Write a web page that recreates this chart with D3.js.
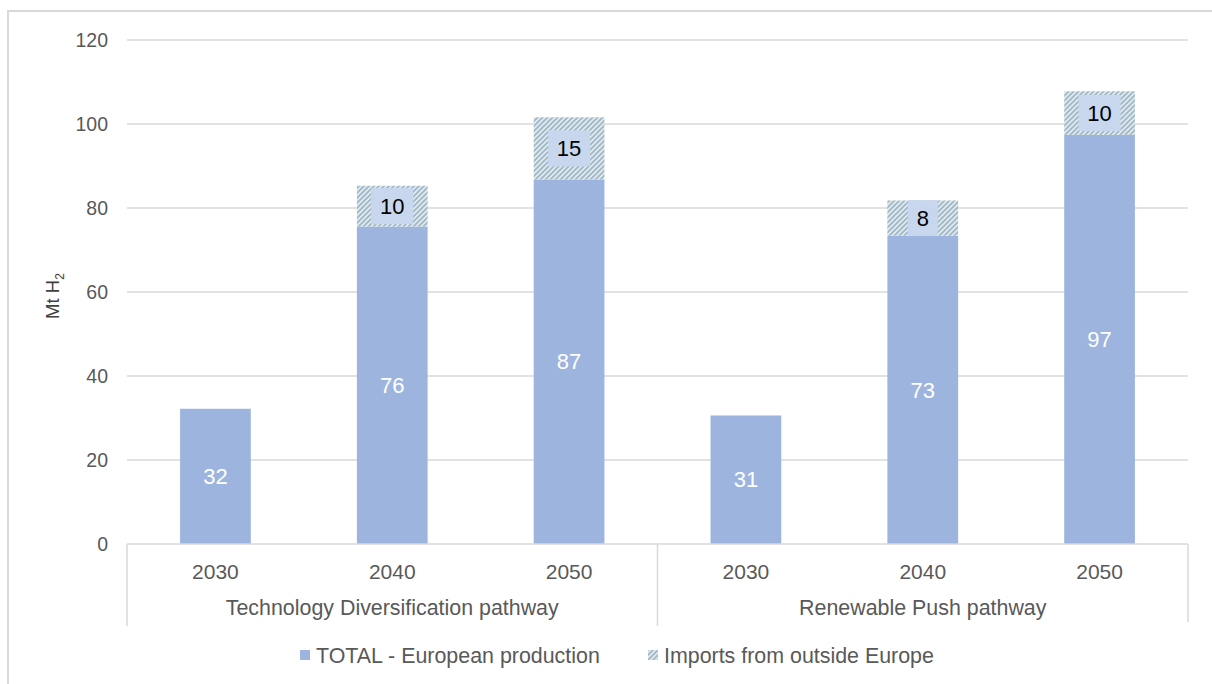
<!DOCTYPE html>
<html><head><meta charset="utf-8">
<script src="https://cdn.jsdelivr.net/npm/d3@7"></script>
<style>body{margin:0;background:#fff;}svg{display:block;font-family:Arial,"Liberation Sans",sans-serif;}</style>
</head><body><svg id="c" width="1212" height="684"></svg>
<script>
const groups = ["Technology Diversification pathway", "Renewable Push pathway"];
const years = ["2030", "2040", "2050"];
const european = [32.2, 75.6, 86.8, 30.6, 73.4, 97.4];
const imports = [0, 9.7, 14.8, 0, 8.4, 10.4];
const yTicks = [0, 20, 40, 60, 80, 100, 120];
const seriesNames = ["TOTAL - European production", "Imports from outside Europe"];

(function(){
const svg = d3.select("#c");
const W = 1212, H = 684;
const mLeft = 127, mRight = 1188, mTop = 40, mBottom = 544;
const FF = "Arial,'Liberation Sans',sans-serif";

// frame
svg.append("path").attr("d", `M8,${H} V11 H${W}`).attr("fill","none").attr("stroke","#d9d9d9").attr("stroke-width",2);

const defs = svg.append("defs");
const pat = defs.append("pattern").attr("id","hatch").attr("patternUnits","userSpaceOnUse")
  .attr("width",5).attr("height",5);
pat.append("rect").attr("width",5).attr("height",5).attr("fill","#e4edd6");
pat.append("path").attr("d","M-1,1 L1,-1 M0,5 L5,0 M4,6 L6,4").attr("stroke","#9db5de").attr("stroke-width",1.8);

const cats = [];
groups.forEach((g,gi)=>years.forEach((yr,yi)=>cats.push(gi+"|"+yr)));
const x = d3.scaleBand().domain(cats).range([mLeft,mRight]).paddingInner(0.6).paddingOuter(0.3);
const y = d3.scaleLinear().domain([0,120]).range([mBottom,mTop]);

// gridlines
svg.append("g").selectAll("line").data(yTicks.filter(t=>t>0)).join("line")
  .attr("x1",mLeft).attr("x2",mRight).attr("y1",d=>y(d)).attr("y2",d=>y(d))
  .attr("stroke","#d9d9d9").attr("stroke-width",1.5);

// y axis labels
const ya = svg.append("g").attr("transform",`translate(${mLeft},0)`)
  .call(d3.axisLeft(y).tickValues(yTicks).tickSize(0).tickPadding(19));
ya.select(".domain").remove();
ya.selectAll("text").attr("font-size",19.5).attr("fill","#595959").attr("font-family",FF);

// y title
const yt = svg.append("text").attr("transform","translate(59,296) rotate(-90)").attr("text-anchor","middle")
  .attr("font-size",18.5).attr("fill","#404040");
yt.append("tspan").text("Mt H");
yt.append("tspan").text("2").attr("font-size",12).attr("dy",5);

// bars
const data = cats.map((c,i)=>({c, eu:european[i], im:imports[i]}));
svg.append("g").selectAll("rect").data(data).join("rect")
  .attr("x",d=>x(d.c)).attr("width",x.bandwidth())
  .attr("y",d=>y(d.eu)).attr("height",d=>y(0)-y(d.eu)).attr("fill","#9db5de");
const imp = data.filter(d=>d.im>0);
svg.append("g").selectAll("rect").data(imp).join("rect")
  .attr("x",d=>x(d.c)).attr("width",x.bandwidth())
  .attr("y",d=>y(d.eu+d.im)).attr("height",d=>y(d.eu)-y(d.eu+d.im)).attr("fill","url(#hatch)");

// European labels
svg.append("g").selectAll("text").data(data).join("text")
  .attr("x",d=>x(d.c)+x.bandwidth()/2).attr("y",d=>(y(d.eu)+y(0))/2).attr("dy","0.35em")
  .attr("text-anchor","middle").attr("font-size",22).attr("fill","#fff").text(d=>d3.format(".0f")(d.eu));

// Import labels with box
const il = svg.append("g").selectAll("g").data(imp).join("g")
  .attr("transform",d=>`translate(${x(d.c)+x.bandwidth()/2},${(y(d.eu)+y(d.eu+d.im))/2})`);
il.append("rect").attr("x",d=>d3.format(".0f")(d.im).length>1?-21:-15).attr("width",d=>d3.format(".0f")(d.im).length>1?42:30)
  .attr("y",-18).attr("height",36).attr("fill","#c9d7ee");
il.append("text").attr("text-anchor","middle").attr("dy","0.35em").attr("font-size",22).attr("fill","#000")
  .text(d=>d3.format(".0f")(d.im));

// x axis
svg.append("line").attr("x1",mLeft).attr("x2",mRight).attr("y1",mBottom).attr("y2",mBottom).attr("stroke","#d9d9d9").attr("stroke-width",1.5);
const gw = (mRight-mLeft)/groups.length;
const seps = d3.range(groups.length+1).map(i=>mLeft+i*gw);
svg.append("g").selectAll("line").data(seps).join("line")
  .attr("x1",d=>d).attr("x2",d=>d).attr("y1",mBottom).attr("y2",(d,i)=>i===seps.length-1?622:626)
  .attr("stroke","#d9d9d9").attr("stroke-width",1.5);
svg.append("g").selectAll("text").data(cats).join("text")
  .attr("x",d=>x(d)+x.bandwidth()/2).attr("y",572).attr("dy","0.35em").attr("text-anchor","middle")
  .attr("font-size",21).attr("fill","#595959").text(d=>d.split("|")[1]);
svg.append("g").selectAll("text").data(groups).join("text")
  .attr("x",(d,i)=>mLeft+gw*(i+0.5)).attr("y",608).attr("dy","0.35em").attr("text-anchor","middle")
  .attr("font-size",21.4).attr("fill","#595959").text(d=>d);

// legend
const leg = [{n:seriesNames[0],f:"#9db5de",x:300},{n:seriesNames[1],f:"url(#hatch)",x:648}];
const lg = svg.append("g").selectAll("g").data(leg).join("g").attr("transform",d=>`translate(${d.x},655)`);
lg.append("rect").attr("x",0).attr("y",-5).attr("width",10).attr("height",10).attr("fill",d=>d.f);
lg.append("text").attr("x",16).attr("dy","0.35em").attr("font-size",21.4).attr("fill","#595959").text(d=>d.n);
})();
</script></body></html>
